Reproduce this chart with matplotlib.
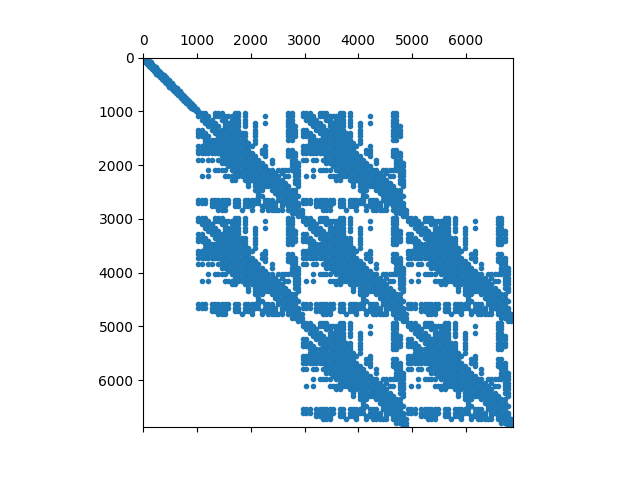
import numpy as np
import matplotlib
matplotlib.use('Agg')
import matplotlib.pyplot as plt

size = 6875

# first thick stretch of the diagonal
head_rows = [0, 30, 60, 90, 120, 150, 180, 210, 240, 270, 300, 330, 360, 390, 420, 450, 480, 510,
             540, 570, 600, 630, 660, 690, 720, 750, 780, 810, 840, 870, 900, 930, 960, 990]
head_lo = [0, 0, 15, 40, 70, 100, 130, 160, 195, 225, 245, 275, 305, 340, 370, 400, 425, 455,
           485, 515, 550, 580, 615, 645, 675, 705, 735, 765, 795, 830, 860, 895, 930, 975]
head_hi = [40, 80, 115, 145, 170, 200, 235, 265, 290, 320, 355, 385, 415, 445, 475, 500, 530, 560,
           595, 620, 650, 680, 710, 740, 765, 795, 825, 855, 890, 915, 945, 970, 995, 1015]

# top left corner of each repeated block (row, col)
block_rows = [1000, 1000, 2950, 2950, 2950, 4900, 4900]
block_cols = [1000, 2950, 1000, 2950, 4900, 2950, 4900]

# occupancy of one block, one character per 62 rows/cols
cell = 62
motif = [
    "###..###...##.#............##...",
    "####.########.#.....#......##...",
    ".####..##.###.#............##...",
    "..####..#####.#..#..#......##...",
    "...####.#####.#..#.........###..",
    "##..#########....#.........###..",
    "###..##########..#.........###..",
    "####..#########..#.........###..",
    "..#############..#.........##...",
    "..##############.#..............",
    "#################...#...........",
    "################...##......##...",
    "#################..##......###..",
    ".......###########..#......###..",
    "##.##.#############...#.....##..",
    ".......#############..#.....###.",
    ".........############.......###.",
    "...#.####.#############.#######.",
    "...........#############.#...##.",
    ".#.#....#################.##.##.",
    "..........##..############...##.",
    "...............#.##########..##.",
    "...............#.###########..#.",
    ".................###..########..",
    "..................#....#######..",
    "..................##....#######.",
    "###.######.##.#####.###.######..",
    "###.######.##.#####.####.######.",
    "....#####..##.###..#####.#.####.",
    "......###....#..#..#.#####.#####",
    "............................####",
    "..............................##",
]

mat = np.zeros((size, size), dtype=bool)
for r, lo, hi in zip(head_rows, head_lo, head_hi):
    mat[r, lo] = True
    mat[r, hi] = True
for r0, c0 in zip(block_rows, block_cols):
    for j, line in enumerate(motif):
        for i, ch in enumerate(line):
            if ch == '#':
                mat[r0 + 30 + j * cell, c0 + 25 + i * cell] = True

fig, ax = plt.subplots(figsize=(6.4, 4.8), dpi=100)
ax.spy(mat, marker='.', markersize=6)
fig.savefig('out.png', dpi=100)
